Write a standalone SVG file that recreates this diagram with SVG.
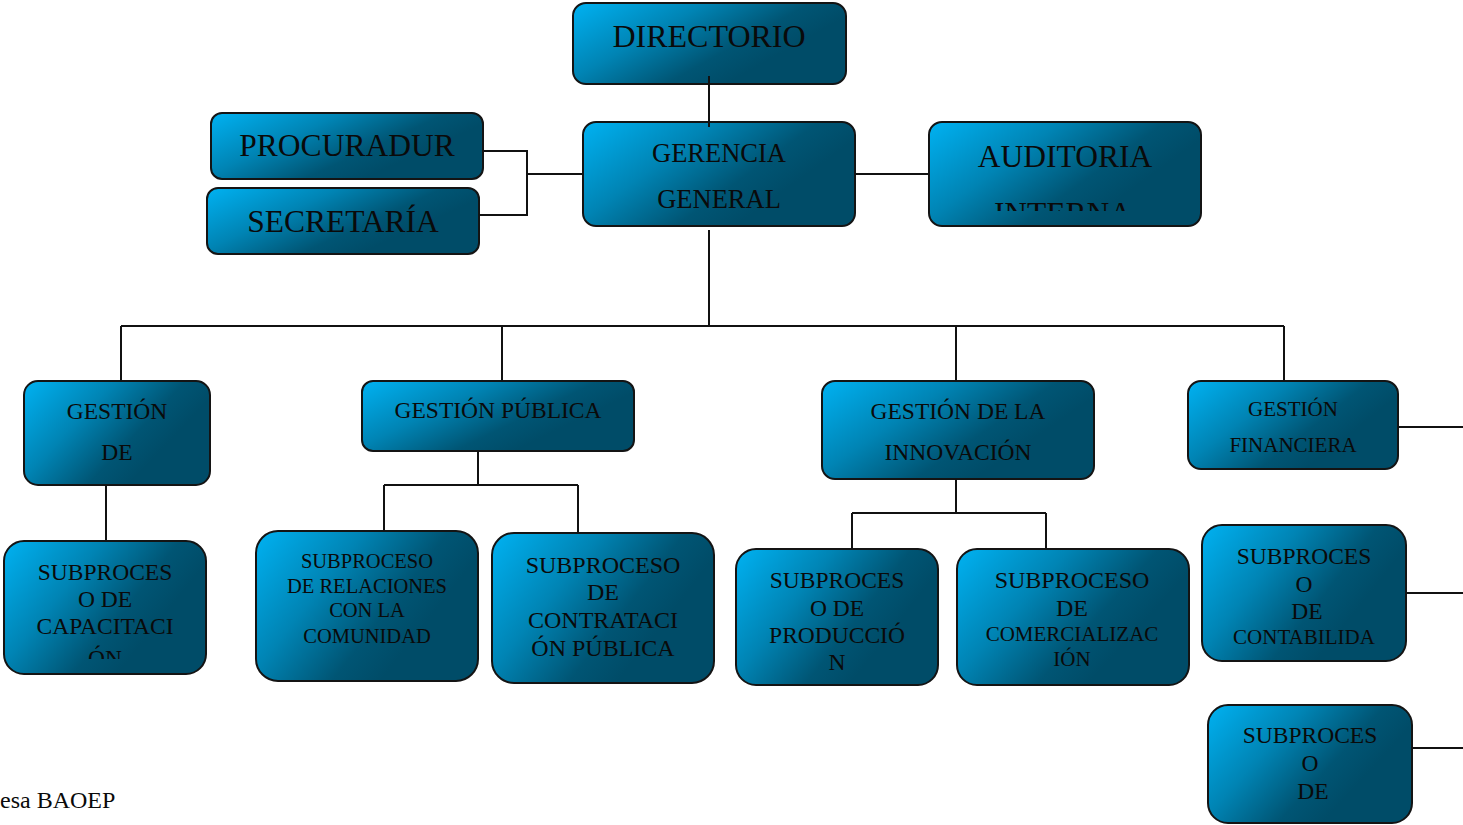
<svg xmlns="http://www.w3.org/2000/svg" width="1463" height="825" viewBox="0 0 1463 825">
<defs>
<linearGradient id="g" x1="0" y1="0" x2="0.85" y2="0.45">
<stop offset="0" stop-color="#00b2f2"/>
<stop offset="0.45" stop-color="#0084b4"/>
<stop offset="0.8" stop-color="#005574"/>
<stop offset="1" stop-color="#004c68"/>
</linearGradient>
<clipPath id="cAud"><rect x="929" y="122" width="272" height="89"/></clipPath>
<clipPath id="cCap"><rect x="4" y="541" width="202" height="118"/></clipPath>
</defs>
<style>
.b{fill:url(#g);stroke:#141414;stroke-width:2}
.t{font-family:"Liberation Serif","Times New Roman",serif;fill:#0a0a0a;text-anchor:middle}
.c{fill:none;stroke:#111;stroke-width:2}
</style>
<rect width="1463" height="825" fill="#fff"/>
<g id="directorio"><rect class="b" x="573" y="3" width="273" height="81" rx="13"/><text class="t" x="709" y="47" font-size="32">DIRECTORIO</text></g>
<g id="gerencia"><rect class="b" x="583" y="122" width="272" height="104" rx="13"/><text class="t" x="719" y="162" font-size="26.5">GERENCIA</text><text class="t" x="719" y="208" font-size="26.5">GENERAL</text></g>
<g id="procuraduria"><rect class="b" x="211" y="113" width="272" height="66" rx="11"/><text class="t" x="347" y="156" font-size="31.5">PROCURADUR</text></g>
<g id="secretaria"><rect class="b" x="207" y="188" width="272" height="66" rx="11"/><text class="t" x="343" y="232" font-size="31.5">SECRETARÍA</text></g>
<g id="auditoria"><rect class="b" x="929" y="122" width="272" height="104" rx="13"/><g clip-path="url(#cAud)"><text class="t" x="1065" y="167" font-size="31.5">AUDITORIA</text><text class="t" x="1063" y="224" font-size="31.5">INTERNA</text></g></g>
<g id="g-talento"><rect class="b" x="24" y="381" width="186" height="104" rx="14"/><text class="t" x="117" y="419" font-size="23.5">GESTIÓN</text><text class="t" x="117" y="460" font-size="23.5">DE</text></g>
<g id="g-publica"><rect class="b" x="362" y="381" width="272" height="70" rx="11"/><text class="t" x="498" y="418" font-size="23.5">GESTIÓN PÚBLICA</text></g>
<g id="g-innovacion"><rect class="b" x="822" y="381" width="272" height="98" rx="13"/><text class="t" x="958" y="419" font-size="23.5">GESTIÓN DE LA</text><text class="t" x="958" y="460" font-size="23.5">INNOVACIÓN</text></g>
<g id="g-financiera"><rect class="b" x="1188" y="381" width="210" height="88" rx="13"/><text class="t" x="1293" y="416" font-size="21">GESTIÓN</text><text class="t" x="1293" y="452" font-size="21">FINANCIERA</text></g>
<g id="s-capacitacion"><rect class="b" x="4" y="541" width="202" height="133" rx="20"/><g clip-path="url(#cCap)"><text class="t" x="105" y="580" font-size="23.5">SUBPROCES</text><text class="t" x="105" y="607" font-size="23.5">O DE</text><text class="t" x="105" y="634" font-size="23.5">CAPACITACI</text><text class="t" x="105" y="666" font-size="23.5">ÓN</text></g></g>
<g id="s-relaciones"><rect class="b" x="256" y="531" width="222" height="150" rx="22"/><text class="t" x="367" y="568" font-size="20.5">SUBPROCESO</text><text class="t" x="367" y="593" font-size="20.5">DE RELACIONES</text><text class="t" x="367" y="617" font-size="20.5">CON LA</text><text class="t" x="367" y="643" font-size="20.5">COMUNIDAD</text></g>
<g id="s-contratacion"><rect class="b" x="492" y="533" width="222" height="150" rx="22"/><text class="t" x="603" y="573" font-size="24">SUBPROCESO</text><text class="t" x="603" y="600" font-size="24">DE</text><text class="t" x="603" y="628" font-size="24">CONTRATACI</text><text class="t" x="603" y="656" font-size="24">ÓN PÚBLICA</text></g>
<g id="s-produccion"><rect class="b" x="736" y="549" width="202" height="136" rx="20"/><text class="t" x="837" y="588" font-size="23.5">SUBPROCES</text><text class="t" x="837" y="616" font-size="23.5">O DE</text><text class="t" x="837" y="643" font-size="23.5">PRODUCCIÓ</text><text class="t" x="837" y="670" font-size="23.5">N</text></g>
<g id="s-comercializacion"><rect class="b" x="957" y="549" width="232" height="136" rx="20"/><text class="t" x="1072" y="588" font-size="24">SUBPROCESO</text><text class="t" x="1072" y="616" font-size="24">DE</text><text class="t" x="1072" y="641" font-size="21">COMERCIALIZAC</text><text class="t" x="1072" y="666" font-size="21">IÓN</text></g>
<g id="s-contabilidad"><rect class="b" x="1202" y="525" width="204" height="136" rx="20"/><text class="t" x="1304" y="564" font-size="23.5">SUBPROCES</text><text class="t" x="1304" y="592" font-size="23.5">O</text><text class="t" x="1307" y="619" font-size="23.5">DE</text><text class="t" x="1304" y="644" font-size="21">CONTABILIDA</text></g>
<g id="s-otro"><rect class="b" x="1208" y="705" width="204" height="118" rx="20"/><text class="t" x="1310" y="743" font-size="23.5">SUBPROCES</text><text class="t" x="1310" y="771" font-size="23.5">O</text><text class="t" x="1313" y="799" font-size="23.5">DE</text></g>
<g id="connectors">
<path class="c" d="M709 76V127"/>
<path class="c" d="M483 151H527V215H479M527 174H583"/>
<path class="c" d="M855 174H929"/>
<path class="c" d="M709 230V326M121 326H1284M121 326V381M502 326V381M956 326V381M1284 326V381"/>
<path class="c" d="M106 485V540"/>
<path class="c" d="M478 451V485M384 485H578M384 485V531M578 485V533"/>
<path class="c" d="M956 479V513M852 513H1046M852 513V549M1046 513V549"/>
<path class="c" d="M1398 427H1463M1406 593H1463M1412 748H1463"/>
</g>
<text x="0" y="808" font-family="'Liberation Serif','Times New Roman',serif" font-size="24" fill="#0a0a0a">esa BAOEP</text>
</svg>
